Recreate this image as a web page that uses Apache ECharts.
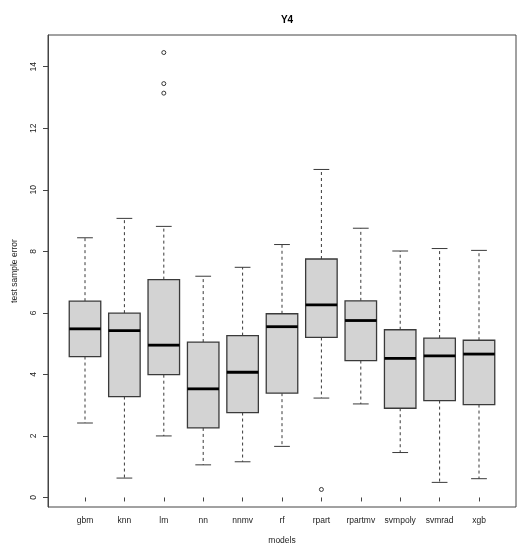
<!DOCTYPE html>
<html>
<head>
<meta charset="utf-8">
<script src="https://cdn.jsdelivr.net/npm/echarts@6/dist/echarts.min.js"></script>
<style>html,body{margin:0;padding:0;background:#fff}#c{width:528px;height:550px}</style>
</head>
<body>
<div id="c"></div>
<script>
var categories = ['gbm','knn','lm','nn','nnmv','rf','rpart','rpartmv','svmpoly','svmrad','xgb'];
var lowerWhisker = [2.42, 0.63, 2.00, 1.06, 1.16, 1.66, 3.23, 3.04, 1.46, 0.49, 0.61];
var q1 =           [4.58, 3.28, 3.99, 2.26, 2.76, 3.39, 5.20, 4.45, 2.90, 3.15, 3.02];
var median =       [5.48, 5.42, 4.95, 3.53, 4.07, 5.55, 6.26, 5.75, 4.52, 4.60, 4.66];
var q3 =           [6.38, 5.99, 7.08, 5.05, 5.26, 5.97, 7.75, 6.39, 5.45, 5.18, 5.11];
var upperWhisker = [8.44, 9.07, 8.81, 7.19, 7.48, 8.22, 10.66, 8.75, 8.01, 8.09, 8.03];
var outlierCats =  ['lm', 'lm', 'lm', 'rpart'];
var outlierVals =  [14.46, 13.45, 13.14, 0.26];
var yTicks = [0, 2, 4, 6, 8, 10, 12, 14];

var boxData = categories.map(function (c, i) {
  return [i, lowerWhisker[i], q1[i], median[i], q3[i], upperWhisker[i]];
});
var outlierData = outlierCats.map(function (c, i) { return [categories.indexOf(c), outlierVals[i]]; });

var lineCol = '#3a3a3a';
var font = 'Liberation Sans, Arial, sans-serif';
var yMin = -0.31, yMax = 15.03;

function renderBox(params, api) {
  var x = api.value(0);
  var band = api.size([1, 0])[0];
  var bw = band * 0.8, cw = bw * 0.5;
  var pLo = api.coord([x, api.value(1)]);
  var pQ1 = api.coord([x, api.value(2)]);
  var pMd = api.coord([x, api.value(3)]);
  var pQ3 = api.coord([x, api.value(4)]);
  var pHi = api.coord([x, api.value(5)]);
  var cx = pMd[0];
  var dashed = { stroke: lineCol, lineWidth: 1, lineDash: [3, 3], fill: null };
  var solid = { stroke: lineCol, lineWidth: 1, fill: null };
  return {
    type: 'group',
    children: [
      { type: 'line', shape: { x1: cx, y1: pQ3[1], x2: cx, y2: pHi[1] }, style: dashed },
      { type: 'line', shape: { x1: cx, y1: pQ1[1], x2: cx, y2: pLo[1] }, style: dashed },
      { type: 'line', shape: { x1: cx - cw / 2, y1: pHi[1], x2: cx + cw / 2, y2: pHi[1] }, style: solid },
      { type: 'line', shape: { x1: cx - cw / 2, y1: pLo[1], x2: cx + cw / 2, y2: pLo[1] }, style: solid },
      { type: 'rect', shape: { x: cx - bw / 2, y: pQ3[1], width: bw, height: pQ1[1] - pQ3[1] },
        style: { fill: '#d3d3d3', stroke: lineCol, lineWidth: 1.3 } },
      { type: 'line', shape: { x1: cx - bw / 2, y1: pMd[1], x2: cx + bw / 2, y2: pMd[1] },
        style: { stroke: '#000', lineWidth: 2.8 } }
    ]
  };
}

var chart = echarts.init(document.getElementById('c'), null, { renderer: 'canvas' });
chart.setOption({
  animation: false,
  backgroundColor: '#fff',
  title: {
    text: 'Y4', left: 282, top: 10, textAlign: 'center',
    textStyle: { fontFamily: font, fontSize: 10, fontWeight: 'bold', color: '#000' }
  },
  grid: [
    { left: 48, top: 35, width: 468, height: 472, show: true, borderColor: '#444', borderWidth: 1, backgroundColor: 'transparent', containLabel: false },
    { left: 65.3, top: 35, width: 433.4, height: 472, containLabel: false }
  ],
  xAxis: [
    { gridIndex: 0, type: 'value', show: false, min: 0, max: 1 },
    {
      gridIndex: 1, type: 'category', data: categories, boundaryGap: true,
      name: 'models', nameLocation: 'middle', nameGap: 29,
      nameTextStyle: { fontFamily: font, fontSize: 8.5, color: '#222' },
      axisLine: { show: false },
      axisTick: { show: true, alignWithLabel: true, length: 4, lineStyle: { color: '#444' } },
      axisLabel: { fontFamily: font, fontSize: 8.5, color: '#222', margin: 9, interval: 0 },
      splitLine: { show: false }
    }
  ],
  yAxis: [
    {
      gridIndex: 0, type: 'value', min: yMin, max: yMax,
      name: 'test sample error', nameLocation: 'middle', nameGap: 29, nameRotate: 90,
      nameTextStyle: { fontFamily: font, fontSize: 8.5, color: '#222' },
      axisLine: { show: true, lineStyle: { color: '#444' } },
      axisTick: { show: true, length: 5, customValues: yTicks, lineStyle: { color: '#444' } },
      axisLabel: { rotate: 90, customValues: yTicks, fontFamily: font, fontSize: 8.5, color: '#222', margin: 10 },
      splitLine: { show: false }
    },
    { gridIndex: 1, type: 'value', min: yMin, max: yMax, show: false, splitLine: { show: false } }
  ],
  series: [
    {
      type: 'custom', xAxisIndex: 1, yAxisIndex: 1,
      renderItem: renderBox, data: boxData,
      encode: { x: 0, y: [1, 2, 3, 4, 5] }, clip: false
    },
    {
      type: 'scatter', xAxisIndex: 1, yAxisIndex: 1, data: outlierData,
      symbol: 'circle', symbolSize: 4, z: 5,
      itemStyle: { color: 'rgba(255,255,255,0)', borderColor: '#222', borderWidth: 0.9, opacity: 1 }
    }
  ]
});
</script>
</body>
</html>
